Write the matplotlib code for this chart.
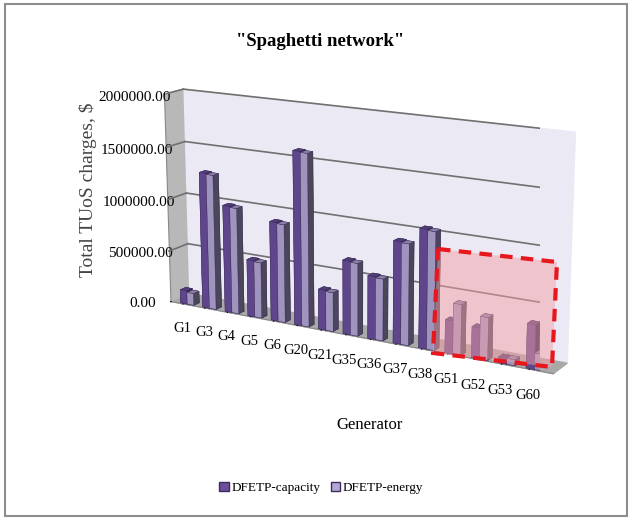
import numpy as np
import matplotlib.pyplot as plt
from matplotlib.patches import Rectangle, Polygon, Patch

plt.rcParams['font.family'] = ['Liberation Serif', 'DejaVu Serif']

#values
generators = ['G1', 'G3', 'G4', 'G5', 'G6', 'G20', 'G21', 'G35', 'G36', 'G37', 'G38', 'G51', 'G52', 'G53', 'G60']
capacity = [130000, 1300000, 1020000, 540000, 935000, 1620000, 375000, 685000, 580000, 935000, 1080000, 300000, 280000, 52000, 395000]
energy = [115000, 1290000, 1010000, 530000, 925000, 1610000, 365000, 675000, 570000, 925000, 1070000, 460000, 385000, 52000, 145000]
zticks = [0, 500000, 1000000, 1500000, 2000000]

col_cap = '#6b4f9e'
col_en = '#b4a7d6'

fig = plt.figure(figsize=(6.3, 5.19), dpi=100)
fig.patches.append(Rectangle((0.008, 0.006), 0.988, 0.986, transform=fig.transFigure,
                             fill=False, edgecolor='#8c8c8c', linewidth=1.5))

ax = fig.add_axes([0.17, 0.2, 0.78, 0.72], projection='3d')
ax.set_proj_type('persp', focal_length=0.8)
ax.view_init(elev=15, azim=-60)
ax.set_box_aspect((6, 0.45, 3.05), zoom=1.3)

n = len(generators)
x = np.arange(n)
w = 0.3
x0, x1 = -0.7, n - 0.3

xs = np.concatenate([x - w, x])
hs = np.concatenate([capacity, energy])
cs = [col_cap] * n + [col_en] * n
ax.bar3d(xs, np.full(2 * n, 0.05), np.zeros(2 * n), w, 0.3, hs, color=cs,
         shade=True, edgecolor='#3d2d5c', linewidth=0.3)

ax.set_xlim(x0, x1)
ax.set_ylim(0, 1)
ax.set_zlim(0, 2000000)

#walls and floor
ax.xaxis.set_pane_color('#b8b8b8')
ax.yaxis.set_pane_color('#ebe9f3')
ax.zaxis.set_pane_color('#a9a9a9')
ax.grid(False)
for z in zticks[1:]:
    ax.plot([x0, x1], [1, 1], [z, z], color='#707070', lw=1.2)
    ax.plot([x0, x0], [0, 1], [z, z], color='#707070', lw=1.2)

ax.set_xticks(x - w / 2)
ax.set_xticklabels(generators, fontsize=10.5)
ax.tick_params(axis='x', pad=4)
ax.set_yticks([])
ax.set_zticks(zticks)
ax.set_zticklabels(['%.2f' % v for v in zticks], fontsize=11)
ax.zaxis.set_ticks_position('lower')
ax.xaxis.line.set_color('#888888')
ax.zaxis.line.set_color('#888888')
ax.yaxis.line.set_visible(False)

fig.text(0.508, 0.92, '"Spaghetti network"', ha='center', va='center',
         fontsize=13.5, fontweight='bold')
fig.text(0.14, 0.634, 'Total TUoS charges, $', rotation=90, ha='center', va='center',
         fontsize=14, color='#444444')
fig.text(0.587, 0.181, 'Generator', ha='center', va='center', fontsize=12)

fig.legend(handles=[Patch(facecolor=col_cap, edgecolor='#3d2d5c', label='DFETP-capacity'),
                    Patch(facecolor=col_en, edgecolor='#3d2d5c', label='DFETP-energy')],
           loc='center', bbox_to_anchor=(0.51, 0.06), ncol=2, frameon=False,
           fontsize=9.5, handlelength=0.7, handleheight=0.7, handletextpad=0.2, columnspacing=0.8)

#highlighted region
corners = [(438 / 630, 1 - 249 / 519), (557 / 630, 1 - 262 / 519),
           (552 / 630, 1 - 367 / 519), (433 / 630, 1 - 353 / 519)]
fig.patches.append(Polygon(corners, closed=True, transform=fig.transFigure,
                           facecolor='#f4a0a6', alpha=0.5, edgecolor='none'))
fig.patches.append(Polygon(corners, closed=True, transform=fig.transFigure, fill=False,
                           edgecolor='#e8161d', linewidth=3, linestyle=(0, (3, 2))))

fig.savefig('out.png', dpi=100)
